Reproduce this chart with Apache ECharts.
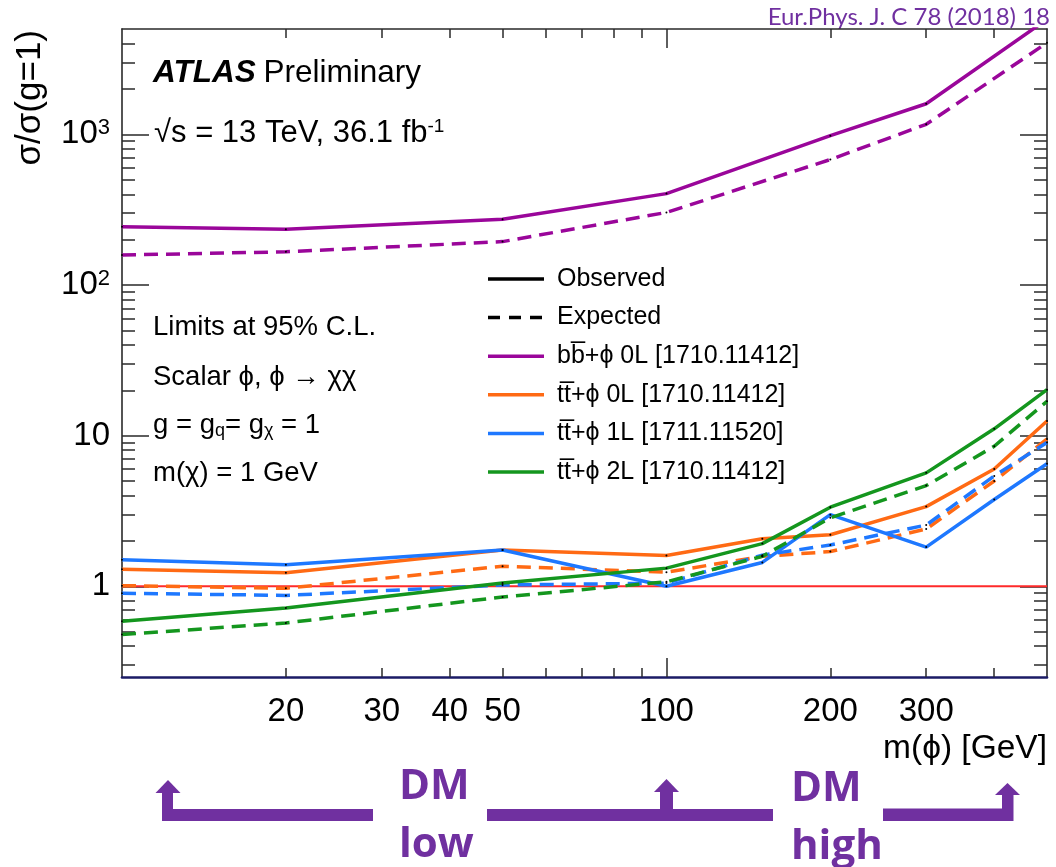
<!DOCTYPE html>
<html>
<head>
<meta charset="utf-8">
<script src="https://cdn.jsdelivr.net/npm/echarts@6/dist/echarts.min.js"></script>
<style>
  html, body { margin: 0; padding: 0; background: #fff; }
  #chart { width: 1056px; height: 867px; }
</style>
</head>
<body>
<div id="chart"></div>
<script>
// Mediator mass points (GeV)
const bbMass = [10, 20, 50, 100, 200, 300, 500];
const ttMass = [10, 20, 50, 100, 150, 200, 300, 400, 500];

// Upper limits on sigma/sigma(g=1)
const bbObs   = [243, 234, 273, 404, 980, 1595, 5800];
const bbExp   = [158, 166, 194, 303, 680, 1165, 4050];
const tt0LObs = [1.30, 1.23, 1.74, 1.60, 2.07, 2.20, 3.38, 6.0, 12.5];
const tt0LExp = [1.01, 0.97, 1.36, 1.24, 1.58, 1.70, 2.40, 5.0, 9.5];
const tt1LObs = [1.50, 1.39, 1.74, 1.00, 1.44, 2.99, 1.82, 3.77, 6.5];
const tt1LExp = [0.90, 0.87, 1.02, 1.05, 1.61, 1.88, 2.55, 5.4, 9.0];
const tt2LObs = [0.586, 0.718, 1.05, 1.32, 1.92, 3.35, 5.66, 11.1, 20.2];
const tt2LExp = [0.478, 0.571, 0.85, 1.07, 1.58, 2.85, 4.66, 8.5, 16.9];
const unitLine = [[10, 1], [500, 1]];

// Axis ticks and labels
const xTickLabels = [20, 30, 40, 50, 100, 200, 300];
const xMajorTicks = [100];
const xMinorTicks = [20, 30, 40, 50, 60, 70, 80, 90, 200, 300, 400];
const yTickLabels = [1, 10, 100, 1000];
const yMajorTicks = [1, 10, 100, 1000];
const yMinorTicks = [0.3, 0.4, 0.5, 0.6, 0.7, 0.8, 0.9,
  2, 3, 4, 5, 6, 7, 8, 9, 20, 30, 40, 50, 60, 70, 80, 90,
  200, 300, 400, 500, 600, 700, 800, 900, 2000, 3000, 4000];

// Legend entries
const legendLabels = ['Observed', 'Expected',
  'bb\u0305+\u03d5 0L [1710.11412]', 'tt\u0305+\u03d5 0L [1710.11412]',
  'tt\u0305+\u03d5 1L [1711.11520]', 'tt\u0305+\u03d5 2L [1710.11412]'];

const C_BB = '#9a069a', C_T0 = '#ff6a14', C_T1 = '#1e78ff', C_T2 = '#14961e', C_RED = '#ff2a2a';
const FONT = 'Liberation Sans, Arial, sans-serif';
const PURPLE = '#7030a0';

const pairs = (xs, ys) => xs.map((x, i) => [x, ys[i]]);

const frame = { color: '#2a2a2a', width: 1.6 };

function xAxis(position, ticks, len, line, labels) {
  return {
    type: 'log', logBase: 10, min: 10, max: 500, position: position,
    axisLine: { show: !!line, onZero: false, lineStyle: line || frame },
    axisTick: { show: true, inside: true, length: len, customValues: ticks,
                lineStyle: { color: '#2a2a2a', width: 1.5 } },
    axisLabel: labels ? {
      show: true, customValues: xTickLabels, margin: 18,
      fontSize: 33, fontFamily: FONT, color: '#000',
      formatter: v => String(Math.round(v))
    } : { show: false },
    splitLine: { show: false }, minorTick: { show: false }
  };
}

function yAxis(position, ticks, len, line, labels) {
  return {
    type: 'log', logBase: 10, min: 0.25, max: 5000, position: position,
    axisLine: { show: !!line, onZero: false, lineStyle: line || frame },
    axisTick: { show: true, inside: true, length: len, customValues: ticks,
                lineStyle: { color: '#2a2a2a', width: 1.5 } },
    axisLabel: labels ? {
      show: true, customValues: yTickLabels, margin: 12,
      fontSize: 33, fontFamily: FONT, color: '#000',
      formatter: v => {
        const r = Math.round(v);
        if (r === 1) return '{b|1}';
        if (r === 10) return '{b|10}';
        return '{b|10}{p|' + Math.round(Math.log10(r)) + '}';
      },
      rich: {
        b: { fontSize: 33, fontFamily: FONT, color: '#000' },
        p: { fontSize: 22, fontFamily: FONT, color: '#000', verticalAlign: 'top', padding: [0, 0, 12, 0] }
      }
    } : { show: false },
    splitLine: { show: false }, minorTick: { show: false }
  };
}

function lineSeries(name, data, color, dashed) {
  return {
    name: name, type: 'line', data: data, xAxisIndex: 0, yAxisIndex: 0,
    symbol: 'circle', symbolSize: 2, showSymbol: true,
    itemStyle: { color: '#000' },
    lineStyle: { color: color, width: 3.5, type: dashed ? [14, 8] : 'solid' },
    silent: true, animation: false, z: 3
  };
}

// Legend drawn as graphic lines and texts
const legendX1 = 488, legendX2 = 544, legendTextX = 557, legendTop = 279, legendStep = 38.6;
const legendStyles = [
  { stroke: '#000', dash: null }, { stroke: '#000', dash: [12, 9] },
  { stroke: C_BB, dash: null }, { stroke: C_T0, dash: null },
  { stroke: C_T1, dash: null }, { stroke: C_T2, dash: null }
];
const legendGraphics = [];
legendLabels.forEach((label, i) => {
  const y = legendTop + i * legendStep;
  legendGraphics.push({
    type: 'line', shape: { x1: legendX1, y1: y, x2: legendX2, y2: y },
    style: { stroke: legendStyles[i].stroke, lineWidth: 3.5, lineDash: legendStyles[i].dash }
  });
  legendGraphics.push({
    type: 'text', x: legendTextX, y: y,
    style: { text: label, font: '25px ' + FONT, fill: '#000', verticalAlign: 'middle' }
  });
});

function plainText(x, y, text, size, extra) {
  return Object.assign({
    type: 'text', x: x, y: y,
    style: { text: text, font: size + 'px ' + FONT, fill: '#000', verticalAlign: 'middle' }
  }, extra || {});
}

function richText(x, y, text, rich) {
  return { type: 'text', x: x, y: y,
           style: { text: text, rich: rich, font: '28px ' + FONT, fill: '#000', verticalAlign: 'middle' } };
}

// Purple bracket arrows marking the low and high mass ranges
function rect(x, y, w, h) {
  return { type: 'rect', shape: { x: x, y: y, width: w, height: h }, style: { fill: PURPLE } };
}
function head(cx, tipY, baseY, halfW) {
  return { type: 'polygon', shape: { points: [[cx - halfW, baseY], [cx, tipY], [cx + halfW, baseY]] },
           style: { fill: PURPLE } };
}

const annotations = [
  richText(153, 73, '{a|ATLAS} {b|Preliminary}', {
    a: { fontFamily: FONT, fontSize: 31.5, fontWeight: 'bold', fontStyle: 'italic', fill: '#000' },
    b: { fontFamily: FONT, fontSize: 31.5, fill: '#000' }
  }),
  richText(154, 133, '{b|\u221as = 13 TeV, 36.1 fb}{p|-1}', {
    b: { fontFamily: FONT, fontSize: 31, fill: '#000' },
    p: { fontFamily: FONT, fontSize: 19, fill: '#000', verticalAlign: 'top', padding: [0, 0, 13, 0] }
  }),
  plainText(153, 327, 'Limits at 95% C.L.', 27.5),
  plainText(153, 377, 'Scalar \u03d5, \u03d5 \u2192 \u03c7\u03c7', 27.5),
  richText(153, 425, '{b|g = g}{s|q}{b|= g}{s|\u03c7}{b| = 1}', {
    b: { fontFamily: FONT, fontSize: 27.5, fill: '#000' },
    s: { fontFamily: FONT, fontSize: 18, fill: '#000', verticalAlign: 'bottom', padding: [13, 0, 0, 0] }
  }),
  plainText(153, 473, 'm(\u03c7) = 1 GeV', 27.5),
  // axis titles
  { type: 'text', x: 30, y: 30, rotation: Math.PI / 2,
    style: { text: '\u03c3/\u03c3(g=1)', font: '35px ' + FONT, fill: '#000', align: 'right', verticalAlign: 'middle' } },
  { type: 'text', x: 1047, y: 749,
    style: { text: 'm(\u03d5) [GeV]', font: '33.5px ' + FONT, fill: '#000', align: 'right', verticalAlign: 'middle' } },
  // reference
  { type: 'text', x: 1050, y: 17,
    style: { text: 'Eur.Phys. J. C 78 (2018) 18', font: '24px Lato, "Open Sans", sans-serif', fill: PURPLE,
             align: 'right', verticalAlign: 'middle' } },
  // DM low / DM high
  { type: 'text', x: 399, y: 787, style: { text: 'DM', font: 'bold 42px "Open Sans", sans-serif', fill: PURPLE, verticalAlign: 'middle' } },
  { type: 'text', x: 399, y: 845, style: { text: 'low', font: 'bold 42px "Open Sans", sans-serif', fill: PURPLE, verticalAlign: 'middle' } },
  { type: 'text', x: 791, y: 789, style: { text: 'DM', font: 'bold 42px "Open Sans", sans-serif', fill: PURPLE, verticalAlign: 'middle' } },
  { type: 'text', x: 791, y: 847, style: { text: 'high', font: 'bold 42px "Open Sans", sans-serif', fill: PURPLE, verticalAlign: 'middle' } },
  rect(162, 809, 211, 12), rect(162, 792, 11, 29), head(168, 780, 793, 12.5),
  rect(487, 809, 286, 12), rect(660, 791, 13, 30), head(666.5, 779, 792, 12.5),
  rect(883, 808.5, 130, 12.5), rect(1002, 794, 11.5, 27), head(1007.5, 783, 795, 12.5)
];

const chart = echarts.init(document.getElementById('chart'), null, { renderer: 'canvas' });
chart.setOption({
  animation: false,
  backgroundColor: '#fff',
  grid: { left: 122, right: 9, top: 29, bottom: 190, containLabel: false },
  xAxis: [
    xAxis('bottom', xMajorTicks, 19, { color: '#1b1b66', width: 2.6 }, true),
    xAxis('bottom', xMinorTicks, 9, null, false),
    xAxis('top', xMajorTicks, 19, frame, false),
    xAxis('top', xMinorTicks, 9, null, false)
  ],
  yAxis: [
    yAxis('left', yMajorTicks, 27, frame, true),
    yAxis('left', yMinorTicks, 13, null, false),
    yAxis('right', yMajorTicks, 27, frame, false),
    yAxis('right', yMinorTicks, 13, null, false)
  ],
  series: [
    { type: 'line', data: unitLine, symbol: 'none', silent: true, z: 2,
      lineStyle: { color: C_RED, width: 2 } },
    lineSeries('bb 0L obs', pairs(bbMass, bbObs), C_BB, false),
    lineSeries('bb 0L exp', pairs(bbMass, bbExp), C_BB, true),
    lineSeries('tt 0L obs', pairs(ttMass, tt0LObs), C_T0, false),
    lineSeries('tt 0L exp', pairs(ttMass, tt0LExp), C_T0, true),
    lineSeries('tt 1L obs', pairs(ttMass, tt1LObs), C_T1, false),
    lineSeries('tt 1L exp', pairs(ttMass, tt1LExp), C_T1, true),
    lineSeries('tt 2L obs', pairs(ttMass, tt2LObs), C_T2, false),
    lineSeries('tt 2L exp', pairs(ttMass, tt2LExp), C_T2, true)
  ],
  graphic: legendGraphics.concat(annotations)
});
</script>
</body>
</html>
